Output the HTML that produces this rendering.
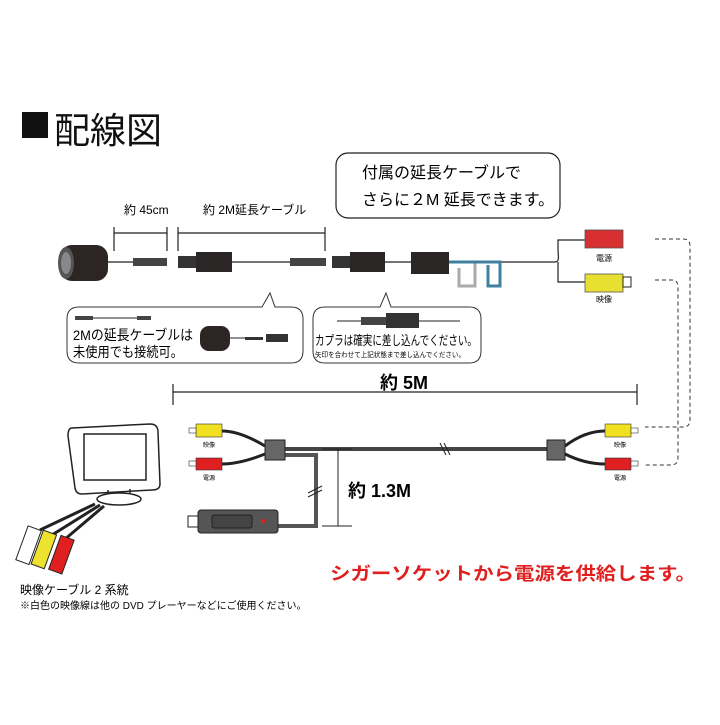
<!DOCTYPE html>
<html><head><meta charset="utf-8"><style>
body{margin:0;background:#fff}
svg text{font-family:"Liberation Sans","Noto Sans CJK JP",sans-serif}
</style></head><body>
<svg width="720" height="720" viewBox="0 0 720 720" xmlns="http://www.w3.org/2000/svg">
<rect x="22" y="112" width="26" height="26" fill="#111"/>
<text x="54" y="143" font-size="36" fill="#111">配線図</text>

<rect x="336" y="153" width="224" height="65" rx="12" fill="#fff" stroke="#222" stroke-width="1.2"/>
<text x="362" y="178" font-size="16">付属の延長ケーブルで</text>
<text x="362" y="205" font-size="16">さらに２M 延長できます。</text>

<text x="124" y="214" font-size="12">約 45cm</text>
<text x="203" y="214" font-size="12">約 2M延長ケーブル</text>
<g stroke="#222" stroke-width="1.2" fill="none">
<path d="M114 227V251M167 227V251M114 233H167"/>
<path d="M178 227V251M325 227V251M178 233H325"/>
</g>
<rect x="60" y="245" width="48" height="36" rx="12" fill="#2d2424"/>
<ellipse cx="66" cy="263" rx="8" ry="16" fill="#555"/>
<ellipse cx="66" cy="263" rx="5" ry="11" fill="#888"/>
<g stroke="#222" stroke-width="1.2"><path d="M107 262H133M232 262H290M384 262H411M449 262H555"/></g>
<rect x="133" y="258" width="34" height="8" fill="#444"/>
<rect x="178" y="256" width="18" height="12" fill="#333"/><rect x="196" y="252" width="36" height="20" fill="#2a2626"/>
<rect x="290" y="258" width="36" height="8" fill="#444"/>
<rect x="332" y="256" width="18" height="12" fill="#333"/><rect x="350" y="252" width="35" height="20" fill="#2a2626"/>
<rect x="411" y="252" width="38" height="22" fill="#2a2626"/>
<path d="M449 262H475V286H459V268" fill="none" stroke="#aaa" stroke-width="3"/>
<path d="M449 262H500V286H488V265" fill="none" stroke="#3f7fa0" stroke-width="3"/>
<path d="M555 262C560 262 558 256 558 248V240H585M558 262V282H585" fill="none" stroke="#222" stroke-width="1.2"/>
<rect x="585" y="230" width="38" height="18" fill="#d83030" stroke="#555" stroke-width="0.8"/>
<text x="604" y="261" font-size="8" text-anchor="middle">電源</text>
<rect x="585" y="274" width="38" height="18" fill="#e8e030" stroke="#555" stroke-width="0.8"/>
<rect x="623" y="277" width="8" height="10" fill="#fff" stroke="#222"/>
<text x="604" y="302" font-size="8" text-anchor="middle">映像</text>

<path d="M79 307H262L270 293L275 307H291Q303 307 303 319V351Q303 363 291 363H79Q67 363 67 351V319Q67 307 79 307Z" fill="#fff" stroke="#333"/>
<rect x="75" y="316" width="18" height="4" fill="#444"/><path d="M93 318H137" stroke="#222"/><rect x="137" y="316" width="14" height="4" fill="#444"/>
<text x="73" y="340" font-size="14" textLength="120" lengthAdjust="spacingAndGlyphs">2Mの延長ケーブルは</text>
<text x="73" y="357" font-size="14" textLength="110" lengthAdjust="spacingAndGlyphs">未使用でも接続可。</text>
<rect x="200" y="326" width="30" height="25" rx="9" fill="#2d2424"/>
<path d="M230 338H245" stroke="#222"/><rect x="245" y="337" width="18" height="3" fill="#333"/><rect x="266" y="334" width="22" height="8" fill="#333"/>
<path d="M325 307H380L386 293L391 307H469Q481 307 481 319V351Q481 363 469 363H325Q313 363 313 351V319Q313 307 325 307Z" fill="#fff" stroke="#333"/>
<path d="M337 321H460" stroke="#222"/><rect x="361" y="317" width="28" height="8" fill="#444"/><rect x="386" y="313" width="33" height="15" fill="#333"/>
<text x="315" y="345" font-size="13" textLength="162" lengthAdjust="spacingAndGlyphs">カプラは確実に差し込んでください。</text>
<text x="315" y="357" font-size="7" textLength="150" lengthAdjust="spacingAndGlyphs">矢印を合わせて上記状態まで差し込んでください。</text>

<path d="M173 384V405M637 384V405M173 392H637" stroke="#222" stroke-width="1.2"/>
<text x="380" y="389" font-size="18" font-weight="bold">約 5M</text>

<path d="M655 239H683Q690 239 690 246V420Q690 427 683 427H645M655 280H672Q678 280 678 287V458Q678 465 671 465H645" fill="none" stroke="#333" stroke-dasharray="4,3"/>

<!-- monitor -->
<path d="M72 428L150 424Q158 424 158 432L160 484Q160 490 152 490L82 494Q76 494 75 488L68 436Q68 428 72 428Z" fill="#fff" stroke="#222" stroke-width="1.5"/>
<rect x="84" y="434" width="62" height="46" fill="#fff" stroke="#222" stroke-width="1.5"/>
<path d="M108 490V497M130 489V496" stroke="#222" stroke-width="1.5"/>
<ellipse cx="119" cy="499" rx="22" ry="6" fill="#fff" stroke="#222" stroke-width="1.5"/>
<path d="M95 504L40 530M100 505L52 535M104 506L64 540" stroke="#222" stroke-width="3" fill="none"/>
<g transform="rotate(20 30 550)"><rect x="20" y="528" width="14" height="36" fill="#fff" stroke="#222"/></g>
<g transform="rotate(20 45 552)"><rect x="36" y="532" width="14" height="36" fill="#eee230" stroke="#222"/></g>
<g transform="rotate(20 62 556)"><rect x="54" y="537" width="14" height="36" fill="#e02020" stroke="#222"/></g>

<!-- lower cable -->
<path d="M285 449H547" stroke="#444" stroke-width="4"/>
<path d="M285 455H316V526H278" stroke="#555" stroke-width="4" fill="none"/>
<path d="M222 431Q240 431 265 446M222 464Q240 464 265 454" stroke="#222" stroke-width="3" fill="none"/>
<path d="M565 446Q585 431 605 431M565 454Q585 464 605 464" stroke="#222" stroke-width="3" fill="none"/>
<rect x="265" y="440" width="20" height="20" fill="#666" stroke="#222"/>
<rect x="547" y="440" width="18" height="20" fill="#666" stroke="#222"/>
<rect x="196" y="424" width="26" height="13" fill="#f0e020" stroke="#333" stroke-width="0.6"/><rect x="189" y="428" width="7" height="5" fill="#fff" stroke="#333" stroke-width="0.6"/>
<rect x="196" y="458" width="26" height="12" fill="#e02020" stroke="#333" stroke-width="0.6"/><rect x="189" y="461" width="7" height="5" fill="#fff" stroke="#333" stroke-width="0.6"/>
<text x="209" y="447" font-size="6" text-anchor="middle">映像</text><text x="209" y="480" font-size="6" text-anchor="middle">電源</text>
<rect x="605" y="424" width="26" height="13" fill="#f0e020" stroke="#333" stroke-width="0.6"/><rect x="631" y="428" width="7" height="5" fill="#fff" stroke="#333" stroke-width="0.6"/>
<rect x="605" y="458" width="26" height="12" fill="#e02020" stroke="#333" stroke-width="0.6"/><rect x="631" y="461" width="7" height="5" fill="#fff" stroke="#333" stroke-width="0.6"/>
<text x="620" y="447" font-size="6" text-anchor="middle">映像</text><text x="620" y="480" font-size="6" text-anchor="middle">電源</text>
<path d="M440 443L446 455M444 443L450 455" stroke="#222"/>
<path d="M308 493L322 486M308 497L322 490" stroke="#222"/>
<rect x="198" y="510" width="80" height="23" rx="3" fill="#555" stroke="#222"/>
<rect x="212" y="515" width="40" height="13" rx="2" fill="#444" stroke="#222"/>
<circle cx="263" cy="521" r="2" fill="#e02020"/>
<rect x="188" y="516" width="10" height="11" fill="#fff" stroke="#222"/>
<path d="M322 449H352M338 449V526M322 526H352" stroke="#222"/>
<text x="348" y="497" font-size="18" font-weight="bold">約 1.3M</text>

<text x="330" y="580" font-size="18" font-weight="bold" fill="#e02020" textLength="366" lengthAdjust="spacingAndGlyphs">シガーソケットから電源を供給します。</text>
<text x="20" y="594" font-size="12">映像ケーブル 2 系統</text>
<text x="20" y="609" font-size="10">※白色の映像線は他の DVD プレーヤーなどにご使用ください。</text>
</svg>
</body></html>
